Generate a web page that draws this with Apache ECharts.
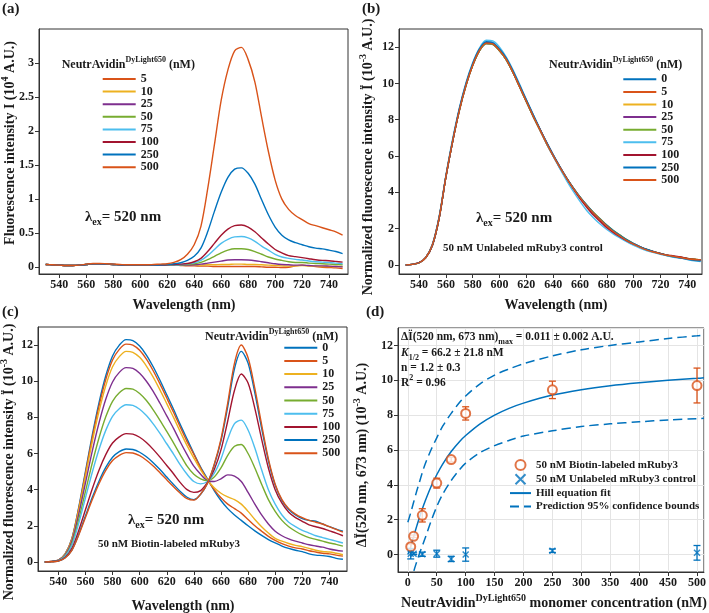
<!DOCTYPE html>
<html><head><meta charset="utf-8">
<script src="https://cdn.jsdelivr.net/npm/echarts@6.0.0/dist/echarts.min.js"></script>
<style>html,body{margin:0;padding:0;background:#fff}#c{width:709px;height:613px}</style>
</head><body><div id="c"></div><script>
// ---------- shared wavelength grid (nm) ----------
const wavelengths = [530,535,540,545,550,555,560,565,570,575,580,585,590,595,600,605,610,615,620,625,630,635,640,645,650,655,660,665,670,675,680,685,690,695,700,705,710,715,720,725,730,735,740,745,750];

// ---------- panel (a): fluorescence intensity (10^4 A.U.) ----------
const concA = ['5','10','25','50','75','100','250','500'];
const a5   = [0.04,0.035,0.03,0.025,0.025,0.03,0.04,0.05,0.05,0.045,0.04,0.035,0.03,0.03,0.03,0.03,0.03,0.03,0.03,0.03,0.025,0.02,0.02,0.015,0.015,0.01,0.01,0.01,0.01,0.01,0.01,0.01,0.005,0,0,-0.005,0,0.02,0.03,0.02,0.01,0,-0.005,-0.01,-0.02];
const a10  = [0.04,0.035,0.03,0.025,0.025,0.03,0.04,0.05,0.05,0.045,0.04,0.035,0.03,0.03,0.03,0.03,0.03,0.03,0.03,0.03,0.03,0.03,0.03,0.03,0.035,0.035,0.04,0.04,0.045,0.045,0.04,0.04,0.035,0.03,0.025,0.02,0.015,0.02,0.025,0.02,0.015,0.01,0.01,0.01,0.01];
const a25  = [0.04,0.035,0.03,0.025,0.025,0.03,0.04,0.05,0.05,0.045,0.04,0.035,0.03,0.03,0.03,0.03,0.03,0.03,0.03,0.03,0.03,0.03,0.035,0.045,0.06,0.075,0.09,0.105,0.11,0.11,0.105,0.095,0.08,0.065,0.05,0.04,0.035,0.03,0.03,0.025,0.02,0.02,0.015,0.01,0.005];
const a50  = [0.04,0.035,0.03,0.025,0.025,0.03,0.04,0.05,0.05,0.045,0.04,0.035,0.03,0.03,0.03,0.03,0.03,0.03,0.03,0.035,0.035,0.04,0.05,0.07,0.11,0.16,0.21,0.25,0.27,0.27,0.26,0.23,0.19,0.15,0.12,0.1,0.08,0.07,0.07,0.06,0.055,0.05,0.045,0.04,0.035];
const a75  = [0.04,0.035,0.03,0.025,0.025,0.03,0.04,0.05,0.05,0.045,0.04,0.035,0.03,0.03,0.03,0.03,0.03,0.03,0.035,0.035,0.04,0.05,0.065,0.1,0.17,0.26,0.35,0.41,0.445,0.45,0.43,0.38,0.31,0.25,0.19,0.15,0.13,0.115,0.105,0.09,0.08,0.075,0.07,0.06,0.05];
const a100 = [0.04,0.035,0.03,0.025,0.025,0.03,0.04,0.05,0.05,0.045,0.04,0.035,0.03,0.03,0.03,0.03,0.03,0.03,0.035,0.04,0.045,0.055,0.08,0.13,0.23,0.35,0.47,0.56,0.61,0.62,0.59,0.52,0.43,0.34,0.26,0.21,0.17,0.155,0.14,0.125,0.11,0.1,0.095,0.085,0.075];
const a250 = [0.04,0.035,0.03,0.025,0.025,0.03,0.04,0.05,0.05,0.045,0.04,0.035,0.03,0.03,0.03,0.03,0.03,0.035,0.04,0.05,0.065,0.1,0.16,0.28,0.52,0.82,1.1,1.32,1.44,1.46,1.38,1.22,0.99,0.77,0.59,0.47,0.4,0.36,0.33,0.3,0.28,0.27,0.25,0.23,0.2];
const a500 = [0.04,0.035,0.03,0.025,0.025,0.03,0.045,0.055,0.055,0.05,0.045,0.04,0.035,0.035,0.035,0.035,0.04,0.045,0.05,0.07,0.11,0.19,0.33,0.6,1.15,1.8,2.45,2.9,3.18,3.23,3.05,2.72,2.2,1.7,1.28,1.0,0.85,0.76,0.7,0.64,0.61,0.58,0.55,0.52,0.47];

// ---------- panel (b): unlabeled control, normalized (10^-3 A.U.) ----------
const concBC = ['0','5','10','25','50','75','100','250','500'];
const b0   = [0,0.03,0.12,0.4,1.1,2.6,4.85,6.8,8.5,9.9,11.0,11.8,12.2,12.15,11.8,11.3,10.6,9.8,9.0,8.2,7.45,6.7,6.0,5.35,4.75,4.2,3.7,3.25,2.85,2.5,2.15,1.85,1.6,1.35,1.15,0.98,0.83,0.72,0.62,0.52,0.45,0.4,0.34,0.3,0.26];
const b5   = [0,0.03,0.12,0.42,1.15,2.65,4.9,6.85,8.55,9.95,11.05,11.85,12.25,12.2,11.85,11.35,10.65,9.85,9.05,8.25,7.5,6.75,6.05,5.4,4.8,4.25,3.72,3.27,2.85,2.48,2.12,1.82,1.57,1.33,1.13,0.96,0.82,0.71,0.61,0.52,0.47,0.42,0.36,0.32,0.28];
const b10  = [0,0.03,0.11,0.4,1.1,2.6,4.85,6.8,8.5,9.9,11.0,11.8,12.2,12.15,11.8,11.3,10.6,9.8,9.0,8.2,7.45,6.7,6.0,5.35,4.75,4.2,3.7,3.25,2.85,2.5,2.15,1.85,1.6,1.35,1.15,0.98,0.84,0.72,0.62,0.52,0.45,0.4,0.34,0.3,0.26];
const b25  = [0,0.03,0.12,0.4,1.1,2.6,4.85,6.8,8.5,9.9,11.0,11.8,12.2,12.15,11.8,11.3,10.6,9.8,9.0,8.2,7.45,6.7,6.0,5.35,4.76,4.22,3.72,3.27,2.87,2.52,2.17,1.87,1.62,1.37,1.17,0.99,0.84,0.72,0.62,0.53,0.46,0.41,0.35,0.3,0.26];
const b50  = [0,0.03,0.12,0.4,1.1,2.6,4.85,6.8,8.5,9.9,11.0,11.8,12.2,12.15,11.8,11.3,10.6,9.8,9.0,8.2,7.45,6.7,6.02,5.38,4.78,4.24,3.75,3.3,2.9,2.55,2.2,1.9,1.64,1.39,1.18,1.0,0.85,0.73,0.63,0.54,0.47,0.42,0.36,0.31,0.28];
const b75  = [0,0.03,0.12,0.42,1.15,2.7,4.95,6.95,8.65,10.05,11.15,11.95,12.38,12.35,12.0,11.45,10.75,9.95,9.1,8.3,7.5,6.72,6.0,5.3,4.65,4.05,3.5,3.0,2.6,2.25,1.95,1.7,1.48,1.27,1.08,0.92,0.78,0.68,0.58,0.5,0.42,0.38,0.3,0.22,0.18];
const b100 = [0,0.03,0.12,0.4,1.1,2.6,4.85,6.8,8.55,9.95,11.05,11.85,12.25,12.2,11.85,11.35,10.65,9.85,9.05,8.25,7.5,6.75,6.05,5.4,4.78,4.2,3.65,3.18,2.75,2.4,2.05,1.78,1.55,1.33,1.14,0.98,0.84,0.73,0.63,0.54,0.5,0.44,0.36,0.3,0.27];
const b250 = [0,0.03,0.12,0.42,1.12,2.65,4.9,6.85,8.6,10.0,11.1,11.9,12.3,12.25,11.9,11.4,10.7,9.9,9.1,8.3,7.52,6.78,6.08,5.42,4.8,4.25,3.75,3.3,2.88,2.52,2.18,1.88,1.62,1.38,1.17,1.0,0.85,0.73,0.62,0.53,0.45,0.38,0.32,0.26,0.22];
const b500 = [0,0.03,0.12,0.41,1.12,2.62,4.88,6.82,8.52,9.92,11.02,11.82,12.22,12.18,11.82,11.32,10.62,9.82,9.02,8.22,7.47,6.72,6.02,5.37,4.77,4.22,3.72,3.27,2.86,2.5,2.15,1.84,1.58,1.34,1.14,0.97,0.82,0.71,0.61,0.53,0.47,0.41,0.34,0.3,0.28];

// ---------- panel (c): biotin-labeled, normalized (10^-3 A.U.) ----------
const c0   = [0,0.03,0.1,0.45,1.3,3.0,5.0,7.0,8.8,10.3,11.4,12.0,12.3,12.25,11.95,11.45,10.8,10.05,9.25,8.45,7.6,6.8,6.0,5.25,4.6,3.95,3.4,2.95,2.6,2.3,2.0,1.72,1.47,1.24,1.05,0.88,0.75,0.65,0.57,0.45,0.38,0.35,0.3,0.2,0.15];
const c5   = [0,0.03,0.1,0.44,1.27,2.94,4.9,6.86,8.62,10.09,11.17,11.76,12.05,12.0,11.71,11.22,10.58,9.85,9.07,8.28,7.45,6.66,5.95,5.2,4.55,4.0,3.55,3.2,2.95,2.7,2.35,2.0,1.7,1.42,1.2,1.02,0.88,0.78,0.72,0.62,0.55,0.48,0.45,0.38,0.32];
const c10  = [0,0.03,0.09,0.43,1.23,2.84,4.74,6.63,8.33,9.75,10.8,11.36,11.65,11.6,11.32,10.84,10.23,9.52,8.76,8.0,7.2,6.44,5.75,5.1,4.55,4.1,3.8,3.6,3.45,3.2,2.8,2.35,1.95,1.6,1.3,1.15,1.02,0.92,0.85,0.75,0.65,0.58,0.55,0.48,0.4];
const c25  = [0,0.03,0.09,0.39,1.14,2.62,4.37,6.12,7.69,9.0,9.96,10.49,10.75,10.71,10.44,10.0,9.44,8.78,8.08,7.39,6.64,5.94,5.3,4.85,4.5,4.45,4.6,4.82,4.75,4.45,3.85,3.2,2.6,2.1,1.7,1.45,1.28,1.15,1.05,0.95,0.88,0.82,0.72,0.65,0.6];
const c50  = [0,0.02,0.08,0.35,1.01,2.34,3.9,5.46,6.86,8.03,8.89,9.36,9.6,9.56,9.32,8.93,8.42,7.84,7.22,6.59,5.93,5.3,4.85,4.6,4.5,4.7,5.2,5.9,6.4,6.5,6.0,5.2,4.3,3.45,2.8,2.3,1.95,1.7,1.5,1.35,1.25,1.15,1.05,0.97,0.88];
const c75  = [0,0.02,0.07,0.32,0.92,2.12,3.54,4.95,6.22,7.28,8.06,8.48,8.7,8.66,8.45,8.1,7.64,7.11,6.54,5.97,5.37,4.85,4.45,4.32,4.45,4.9,5.7,6.8,7.65,7.85,7.3,6.3,5.1,4.0,3.2,2.6,2.2,1.95,1.75,1.6,1.45,1.35,1.25,1.15,1.05];
const c100 = [0,0.02,0.06,0.26,0.75,1.73,2.89,4.04,5.08,5.94,6.58,6.92,7.1,7.07,6.9,6.61,6.23,5.8,5.34,4.88,4.39,4.0,3.85,3.95,4.4,5.1,6.2,7.8,9.5,10.4,9.9,8.5,6.8,5.2,4.0,3.25,2.75,2.45,2.25,2.05,1.95,1.85,1.72,1.6,1.45];
const c250 = [0,0.02,0.05,0.23,0.66,1.52,2.54,3.56,4.47,5.23,5.79,6.1,6.25,6.22,6.07,5.82,5.49,5.11,4.7,4.29,3.9,3.58,3.45,3.75,4.35,5.35,6.7,8.6,10.7,11.65,11.0,9.35,7.4,5.6,4.25,3.4,2.9,2.6,2.4,2.3,2.25,2.1,1.95,1.82,1.7];
const c500 = [0,0.01,0.05,0.22,0.64,1.48,2.46,3.44,4.33,5.07,5.61,5.9,6.05,6.03,5.88,5.63,5.31,4.94,4.55,4.16,3.8,3.5,3.42,3.75,4.35,5.4,6.8,8.8,11.0,12.0,11.3,9.6,7.6,5.7,4.3,3.45,2.95,2.65,2.45,2.3,2.2,2.1,1.95,1.8,1.65];

// ---------- panel (d): titration (10^-3 A.U.) ----------
const concD     = [5,10,25,50,75,100,250,500];
const biotinY   = [0.45,1.05,2.25,4.1,5.45,8.1,9.45,9.7];
const biotinErr = [0.15,0.07,0.38,0.28,0.13,0.38,0.5,1.0];
const unlabY    = [0.05,0.05,0.02,0.05,-0.25,0.0,0.22,0.1];
const unlabErr  = [0.3,0.05,0.12,0.2,0.15,0.38,0.1,0.42];
const fitX      = [0,5,10,15,20,25,30,40,50,60,75,90,100,125,150,175,200,250,300,350,400,450,500,512];
const fitY      = [0,0.47,1.03,1.59,2.11,2.61,3.07,3.89,4.58,5.18,5.91,6.5,6.83,7.5,8.0,8.39,8.69,9.15,9.46,9.69,9.86,10.0,10.11,10.14];
const upperY    = [1.85,2.4,3.0,3.6,4.15,4.7,5.2,6.0,6.7,7.35,8.1,8.75,9.1,9.8,10.3,10.65,10.95,11.4,11.75,12.0,12.2,12.4,12.55,12.6];
const lowerY    = [-2.5,-1.8,-1.0,-0.45,0.05,0.5,0.95,1.9,2.75,3.45,4.25,4.9,5.25,5.85,6.25,6.55,6.8,7.1,7.35,7.5,7.62,7.72,7.8,7.82];

// ---------- styling ----------
const FF = '"Liberation Serif","Times New Roman",serif';
const INK = '#1a1a1a';
const C = {blue:'#0072BD', orange:'#D95319', yellow:'#EDB120', purple:'#7E2F8E', green:'#77AC30', cyan:'#4DBEEE', red:'#A2142F'};
const colA  = [C.orange,C.yellow,C.purple,C.green,C.cyan,C.red,C.blue,C.orange];
const colBC = [C.blue,C.orange,C.yellow,C.purple,C.green,C.cyan,C.red,C.blue,C.orange];

const chart = echarts.init(document.getElementById('c'), null, {renderer:'canvas'});

function ax(g, min, max, split, grid) {
  return {type:'value', gridIndex:g, min:min, max:max, splitNumber:split,
    axisLine:{onZero:false, lineStyle:{color:'#333', width:1}},
    axisTick:{show:true, inside:false, length:4, lineStyle:{color:'#333'}},
    axisLabel:{showMinLabel:false, showMaxLabel:false, fontFamily:FF, fontWeight:'bold', fontSize:12, color:INK, margin:5},
    splitLine:{show:!!grid, lineStyle:{color:'#e4e4e4', width:1}}};
}
function spec(prefix, name, arr, color, g) {
  return {type:'line', name:prefix+'|'+name, xAxisIndex:g, yAxisIndex:g,
    data: wavelengths.map((w,i)=>[w, arr[i]]), symbol:'none', smooth:0.3,
    lineStyle:{color:color, width:1.4}, itemStyle:{color:color}, z:2};
}
function specLegend(prefix, list, left, top, gap) {
  return {orient:'vertical', left:left, top:top, padding:0, itemWidth:33, itemHeight:10, itemGap:gap,
    selectedMode:false, data:list.map(c=>prefix+'|'+c),
    formatter:(n)=>n.split('|')[1],
    itemStyle:{opacity:0},
    textStyle:{fontFamily:FF, fontWeight:'bold', fontSize:12, color:INK}};
}
function errBars(name, xs, ys, es, color) {
  return {type:'custom', name:name, xAxisIndex:3, yAxisIndex:3, silent:true, z:3,
    data: xs.map((x,i)=>[x, ys[i]-es[i], ys[i]+es[i]]),
    encode:{x:0, y:[1,2]},
    renderItem:(params, api)=>{
      const x = api.value(0), p1 = api.coord([x, api.value(1)]), p2 = api.coord([x, api.value(2)]);
      const w = 3.5, st = {stroke:color, lineWidth:1.3};
      return {type:'group', children:[
        {type:'line', shape:{x1:p1[0], y1:p1[1], x2:p2[0], y2:p2[1]}, style:st},
        {type:'line', shape:{x1:p1[0]-w, y1:p1[1], x2:p1[0]+w, y2:p1[1]}, style:st},
        {type:'line', shape:{x1:p2[0]-w, y1:p2[1], x2:p2[0]+w, y2:p2[1]}, style:st}
      ]};
    }};
}
function richSet(fs) {
  const base = {fontFamily:FF, fontWeight:'bold', fill:INK, color:INK};
  const s = Math.round(fs*0.68);
  return {
    n:  Object.assign({fontSize:fs, lineHeight:fs+6}, base),
    i:  Object.assign({fontSize:fs, lineHeight:fs+6, fontStyle:'italic'}, base),
    sup:Object.assign({fontSize:s, lineHeight:s+1, verticalAlign:'top'}, base),
    sub:Object.assign({fontSize:s, lineHeight:s+1, verticalAlign:'bottom'}, base)
  };
}
function txt(x, y, text, fs, align, rot) {
  align = align || 'left';
  return {type:'text', x:x, y:y, rotation:rot||0, silent:true, z:10,
    style:{text:text, fill:INK, fontSize:fs, fontFamily:FF, fontWeight:'bold',
      align:align, textAlign:align, verticalAlign:'middle', textVerticalAlign:'middle',
      rich:richSet(fs)}};
}

const series = [];
concA.forEach((c,i)=>series.push(spec('a', c, [a5,a10,a25,a50,a75,a100,a250,a500][i], colA[i], 0)));
concBC.forEach((c,i)=>series.push(spec('b', c, [b0,b5,b10,b25,b50,b75,b100,b250,b500][i], colBC[i], 1)));
concBC.forEach((c,i)=>series.push(spec('c', c, [c0,c5,c10,c25,c50,c75,c100,c250,c500][i], colBC[i], 2)));

const NB = '50 nM Biotin-labeled mRuby3', NU = '50 nM Unlabeled mRuby3 control', NH = 'Hill equation fit', NP = 'Prediction 95% confidence bounds';
series.push({type:'line', name:NP, xAxisIndex:3, yAxisIndex:3, data:fitX.map((x,i)=>[x, upperY[i]]), symbol:'none', smooth:0.3,
  lineStyle:{color:C.blue, width:1.5, type:[9,5]}, itemStyle:{color:C.blue}, z:2});
series.push({type:'line', name:NP, xAxisIndex:3, yAxisIndex:3, data:fitX.map((x,i)=>[x, lowerY[i]]), symbol:'none', smooth:0.3,
  lineStyle:{color:C.blue, width:1.5, type:[9,5]}, itemStyle:{color:C.blue}, z:2});
series.push({type:'line', name:NH, xAxisIndex:3, yAxisIndex:3, data:fitX.map((x,i)=>[x, fitY[i]]), symbol:'none', smooth:0.3,
  lineStyle:{color:C.blue, width:1.5}, itemStyle:{color:C.blue}, z:2});
series.push(errBars('eb1', concD, biotinY, biotinErr, C.orange));
series.push(errBars('eb2', concD, unlabY, unlabErr, C.blue));
series.push({type:'scatter', name:NB, xAxisIndex:3, yAxisIndex:3, data:concD.map((x,i)=>[x, biotinY[i]]),
  symbol:'emptyCircle', symbolSize:9, itemStyle:{color:C.orange, borderColor:C.orange, borderWidth:1.3}, z:4});
series.push({type:'scatter', name:NU, xAxisIndex:3, yAxisIndex:3, data:concD.map((x,i)=>[x, unlabY[i]]),
  symbol:'path://M0,0L10,10M10,0L0,10', symbolSize:6, itemStyle:{color:C.blue, borderColor:C.blue, borderWidth:1.5}, z:4});

const option = {
  animation:false,
  backgroundColor:'#fff',
  grid:[
    {left:39, top:29, width:309, height:245, show:true, borderColor:'#333', borderWidth:1, backgroundColor:'transparent'},
    {left:399, top:29, width:303, height:245, show:true, borderColor:'#333', borderWidth:1, backgroundColor:'transparent'},
    {left:38, top:327, width:309, height:244, show:true, borderColor:'#333', borderWidth:1, backgroundColor:'transparent'},
    {left:398, top:328, width:306, height:244, show:true, borderColor:'#333', borderWidth:1, backgroundColor:'transparent'}
  ],
  xAxis:[ ax(0,525,754,11), ax(1,525,751,11), ax(2,525,753,11), ax(3,-17,512,10,true) ],
  yAxis:[ ax(0,-0.1,3.5,7), ax(1,-0.5,13,7), ax(2,-0.5,13,7), ax(3,-1,13,7,true) ],
  legend:[
    specLegend('a', concA, 101.7, 73, 0.6),
    specLegend('b', concBC, 622.3, 73.3, 0.6),
    specLegend('c', concBC, 283.3, 341.7, 1.2),
    {orient:'vertical', left:509, top:459, padding:0, itemWidth:21, itemHeight:10, itemGap:2.3, selectedMode:false,
     data:[{name:NB}, {name:NU}, {name:NH, itemStyle:{opacity:0}}, {name:NP, itemStyle:{opacity:0}}],
     textStyle:{fontFamily:FF, fontWeight:'bold', fontSize:11, color:INK}}
  ],
  series: series,
  graphic:[
    // panel labels
    txt(2, 9, '{n|(a)}', 15), txt(362, 9, '{n|(b)}', 15), txt(2, 312, '{n|(c)}', 15), txt(366, 312, '{n|(d)}', 15),
    // x-axis titles
    txt(184, 305, '{n|Wavelength (nm)}', 14, 'center'),
    txt(556, 305, '{n|Wavelength (nm)}', 14, 'center'),
    txt(183, 606, '{n|Wavelength (nm)}', 14, 'center'),
    txt(554, 603, '{n|NeutrAvidin}{sup|DyLight650}{n| monomer concentration (nM)}', 14, 'center'),
    // y-axis titles
    txt(10, 143, '{n|Fluorescence intensity I (10}{sup|4}{n| A.U.)}', 14, 'center', Math.PI/2),
    txt(368, 157, '{n|Normalized fluorescence intensity Ï (10}{sup|-3}{n| A.U.)}', 14, 'center', Math.PI/2),
    txt(9, 462, '{n|Normalized fluorescence intensity Ï (10}{sup|-3}{n| A.U.)}', 14, 'center', Math.PI/2),
    txt(362, 455, '{n|ΔÏ(520 nm, 673 nm) (10}{sup|-3}{n| A.U.)}', 14, 'center', Math.PI/2),
    // legend titles
    txt(61.7, 65, '{n|NeutrAvidin}{sup|DyLight650}{n| (nM)}', 12),
    txt(549, 65, '{n|NeutrAvidin}{sup|DyLight650}{n| (nM)}', 12),
    txt(205, 337, '{n|NeutrAvidin}{sup|DyLight650}{n| (nM)}', 12),
    // excitation notes
    txt(85, 217, '{n|λ}{sub|ex}{n|= 520 nm}', 15),
    txt(476, 218, '{n|λ}{sub|ex}{n|= 520 nm}', 15),
    txt(443, 248, '{n|50 nM Unlabeled mRuby3 control}', 11),
    txt(128, 520, '{n|λ}{sub|ex}{n|= 520 nm}', 15),
    txt(98, 544, '{n|50 nM Biotin-labeled mRuby3}', 11),
    // panel (d) fit annotations
    txt(401, 337, '{n|ΔÏ(520 nm, 673 nm)}{sub|max}{n| = 0.011 ± 0.002 A.U.}', 11.5),
    txt(401, 353, '{i|K}{sub|1/2}{n| = 66.2 ± 21.8 nM}', 11.5),
    txt(401, 368, '{n|n = 1.2 ± 0.3}', 11.5),
    txt(401, 383, '{n|R}{sup|2}{n| = 0.96}', 11.5)
  ]
};
chart.setOption(option);
</script></body></html>
